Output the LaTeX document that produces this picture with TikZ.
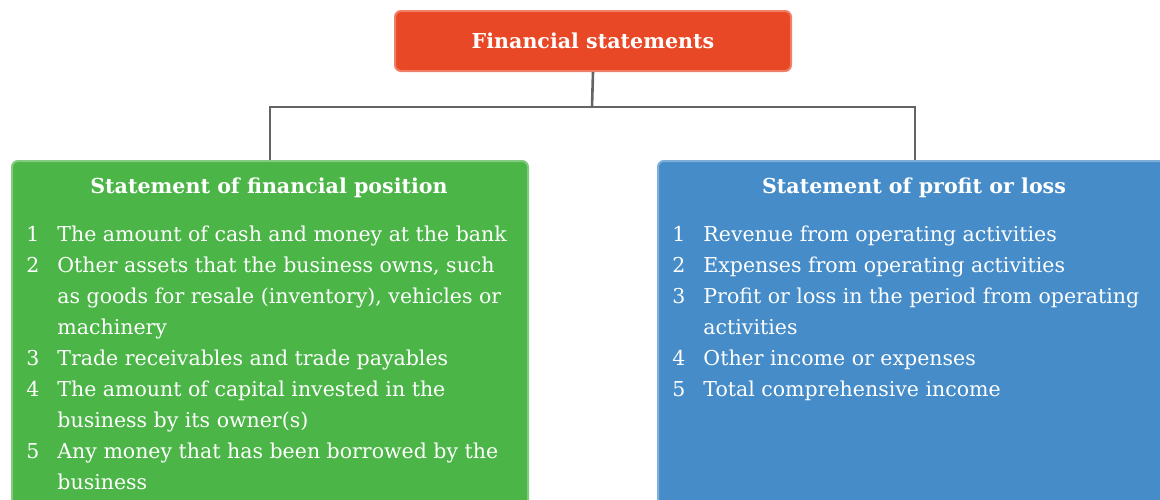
\documentclass[tikz,border=0pt]{standalone}
\usepackage{fontspec}
\setmainfont{DejaVu Serif}
\usetikzlibrary{positioning}

\definecolor{fsred}{RGB}{233,72,38}
\definecolor{fsgreen}{RGB}{76,181,72}
\definecolor{fsblue}{RGB}{70,140,200}
\definecolor{linkgray}{RGB}{100,100,100}

\tikzset{
  box/.style={rounded corners=3pt, line width=1pt, inner sep=0pt, anchor=north west},
  title/.style={text=white, font=\bfseries\fontsize{10.3}{12}\selectfont},
  items/.style={text=white, anchor=north west, inner sep=0pt,
    font=\fontsize{10.25}{15.5}\selectfont},
  link/.style={draw=linkgray, line width=1.3pt},
}

\begin{document}
\begin{tikzpicture}[x=0.5pt,y=-0.5pt]
\clip (0,0) rectangle (1160,499);

% top box
\node[box, title, fill=fsred, draw=fsred!70!white,
      minimum width=198pt, minimum height=30pt] (fs) at (394,10) {Financial statements};

% the two statements (run off the page at the bottom)
\node[box, fill=fsgreen, draw=fsgreen!70!white,
      minimum width=258pt, minimum height=180pt] (sfp) at (11,160) {};
\node[box, fill=fsblue, draw=fsblue!70!white,
      minimum width=257pt, minimum height=180pt] (spl) at (657,160) {};

\node[title] (sfptitle) at (269,188) {Statement of financial position};
\node[title] (spltitle) at (914,188) {Statement of profit or loss};

\node[items] (sfplist) at (26,219) {\begin{tabular}{@{}l@{\hspace{9pt}}l@{}}
1 & The amount of cash and money at the bank\\
2 & Other assets that the business owns, such\\
  & as goods for resale (inventory), vehicles or\\
  & machinery\\
3 & Trade receivables and trade payables\\
4 & The amount of capital invested in the\\
  & business by its owner(s)\\
5 & Any money that has been borrowed by the\\
  & business
\end{tabular}};

\node[items] (spllist) at (672,219) {\begin{tabular}{@{}l@{\hspace{9pt}}l@{}}
1 & Revenue from operating activities\\
2 & Expenses from operating activities\\
3 & Profit or loss in the period from operating\\
  & activities\\
4 & Other income or expenses\\
5 & Total comprehensive income
\end{tabular}};

% connectors
\coordinate (split) at (592,107);
\draw[link] (fs.south) -- (split);
\draw[link] (sfp.north) |- (split) -| (spl.north);
\end{tikzpicture}
\end{document}
